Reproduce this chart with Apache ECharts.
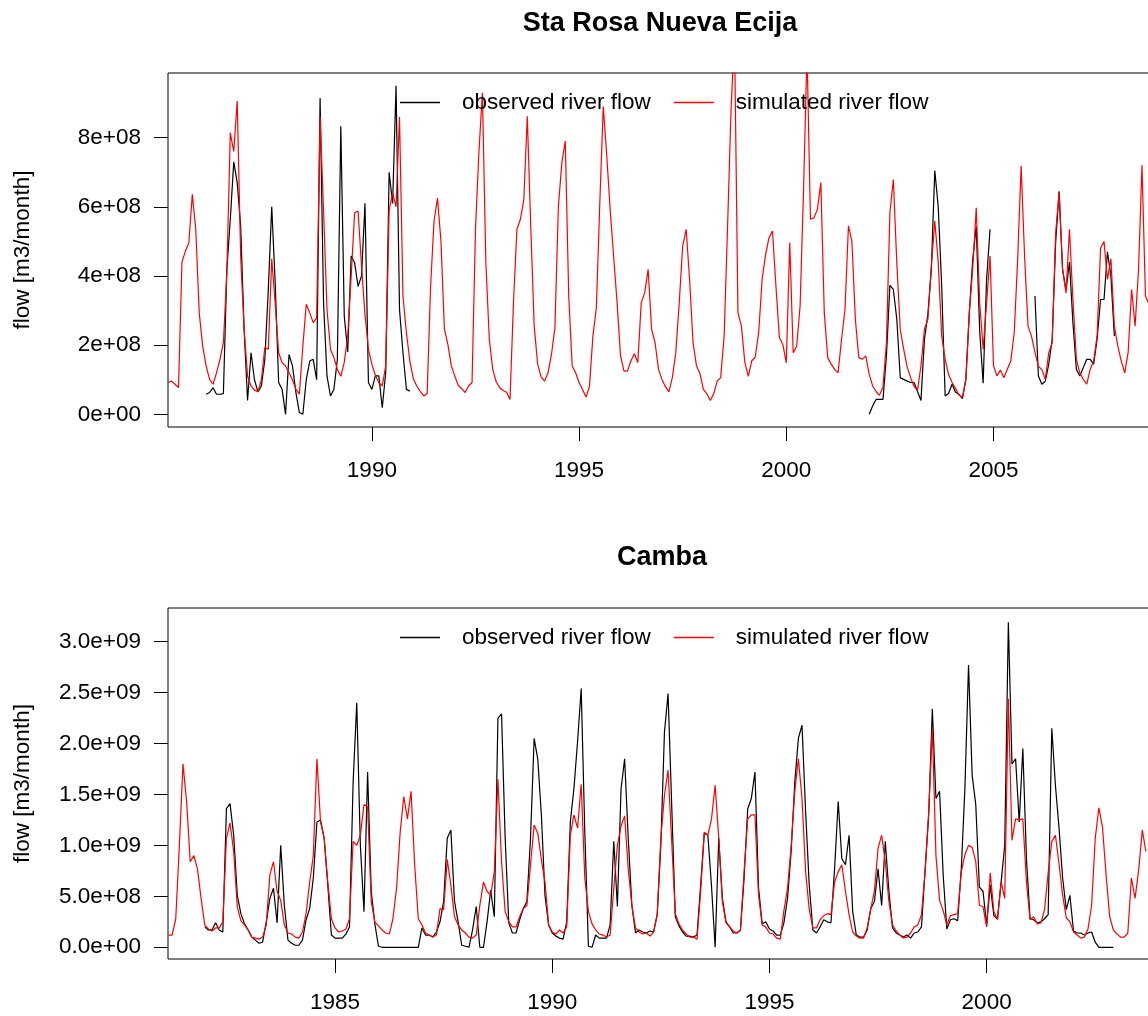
<!DOCTYPE html>
<html>
<head>
<meta charset="utf-8">
<script src="https://cdn.jsdelivr.net/npm/echarts@6/dist/echarts.min.js"></script>
<style>
html,body{margin:0;padding:0;overflow:hidden;background:#ffffff;}
#chart{width:1170px;height:1016px;}
</style>
</head>
<body>
<div id="chart"></div>
<script>
// ---------------- DATA ----------------
// Panel titles and legend labels
const panelTitles = ['Sta Rosa Nueva Ecija', 'Camba'];
const seriesNames = ['observed river flow', 'simulated river flow'];
const yAxisTitle = 'flow [m3/month]';

// Tick labels
const topYearTicks = [1990, 1995, 2000, 2005];
const bottomYearTicks = [1985, 1990, 1995, 2000];
const topFlowTicks = [0, 2e8, 4e8, 6e8, 8e8];
const bottomFlowTicks = [0, 5e8, 1e9, 1.5e9, 2e9, 2.5e9, 3e9];

// Sta Rosa Nueva Ecija – monthly flow, units of 1e8 m3/month
const topUnit = 1e8;
const topSimulatedStart = [1985, 2];   // [year, month]
const topSimulated = [
  0.92,0.96,0.87,0.77,4.4,4.72,4.96,6.36,5.35,2.94,1.97,1.4,
  1.01,0.87,1.2,1.59,2.07,4.1,8.14,7.6,9.06,4.58,2.46,1.1,
  0.82,0.7,0.65,1.0,1.93,1.88,4.5,3.2,1.78,1.49,1.4,1.2,
  1.0,0.72,0.58,1.97,3.18,2.94,2.65,2.79,8.62,5.9,3.03,1.88,
  1.64,1.3,1.1,1.5,2.26,4.0,5.83,5.88,4.29,2.89,1.88,1.45,
  1.13,0.92,0.82,1.4,5.9,6.4,6.0,8.6,3.42,2.36,1.54,1.03,
  0.82,0.66,0.53,0.6,3.71,5.59,6.25,5.0,2.46,2.02,1.4,1.11,
  0.84,0.74,0.63,0.82,0.92,5.35,7.6,9.3,4.38,2.17,1.3,0.94,
  0.77,0.69,0.64,0.43,3.23,5.35,5.64,6.21,8.62,5.44,2.55,1.45,
  1.08,0.96,1.2,1.73,2.5,6.0,7.27,7.9,3.42,1.4,1.2,0.92,
  0.72,0.5,0.8,2.26,3.08,6.12,8.9,7.5,5.92,4.58,3.23,1.69,
  1.25,1.25,1.54,1.75,1.5,3.23,3.52,4.19,2.46,2.07,1.3,1.01,
  0.8,0.65,1.06,1.78,3.23,4.87,5.35,3.9,2.07,1.4,1.18,0.72,
  0.6,0.4,0.6,0.96,1.06,2.26,5.44,8.8,11.0,2.94,2.55,1.5,
  1.1,1.55,1.65,2.36,3.9,4.62,5.11,5.3,3.71,2.22,2.02,1.49,
  4.96,1.78,1.97,3.13,6.5,10.5,5.64,5.68,5.92,6.7,2.94,1.64,
  1.45,1.3,1.2,2.17,3.03,5.45,5.0,2.75,1.64,1.59,1.69,1.16,
  0.82,0.66,0.55,0.8,2.07,5.83,6.79,4.38,2.46,1.88,1.37,1.06,
  0.8,0.7,1.4,2.46,2.75,4.29,5.59,4.4,2.26,1.59,1.15,0.92,
  0.75,0.56,0.49,1.01,2.94,4.24,5.97,3.23,1.88,3.23,4.58,1.4,
  1.11,1.28,1.06,1.3,1.54,2.36,4.48,7.18,4.58,2.55,2.26,1.8,
  1.38,1.3,1.01,1.78,2.07,5.25,6.41,4.19,3.5,5.35,3.32,1.59,
  1.2,1.01,0.87,1.3,1.54,2.26,4.8,5.0,3.9,4.5,2.55,1.97,
  1.54,1.2,1.8,3.61,2.55,4.19,7.2,3.42,3.2
];
const topObserved1Start = [1986, 1];
const topObserved1 = [
  0.58,0.63,0.77,0.58,0.58,0.6,4.19,5.64,7.3,6.7,5.44,2.46,
  0.4,1.78,1.0,0.65,0.82,1.59,3.6,6.0,3.8,0.92,0.72,0.0,
  1.73,1.4,0.63,0.05,0.0,1.0,1.54,1.59,1.0,9.15,3.23,1.11,
  0.53,0.72,1.59,8.33,2.84,1.8,4.58,4.38,3.7,4.0,6.1,0.92,
  0.72,1.11,1.11,0.19,1.2,7.0,6.1,9.5,3.03,1.78,0.72,0.67
];
const topObserved2Start = [2002, 1];
const topObserved2 = [
  0.0,0.24,0.43,0.43,0.43,1.69,3.73,3.61,2.75,1.06,1.01,0.96,
  0.92,0.92,0.66,0.4,2.17,2.89,4.19,7.05,6.0,3.71,0.53,0.6,
  0.87,0.64,0.58,0.45,1.01,2.94,4.5,5.44,2.4,0.9,3.9,5.35
];
const topObserved3Start = [2006, 1];
const topObserved3 = [
  3.42,1.11,0.87,0.96,1.45,2.17,4.98,6.45,4.19,3.6,4.4,2.65,
  1.3,1.11,1.35,1.59,1.59,1.45,2.17,3.32,3.32,4.7,4.0,2.26
];

// Camba – monthly flow, units of 1e9 m3/month
const bottomUnit = 1e9;
const bottomSimulatedStart = [1981, 3];
const bottomSimulated = [
  0.12,0.12,0.28,1.0,1.8,1.43,0.84,0.9,0.77,0.48,0.22,0.18,
  0.16,0.19,0.19,0.25,1.07,1.22,0.94,0.4,0.26,0.22,0.17,0.1,
  0.09,0.08,0.1,0.22,0.71,0.84,0.55,0.46,0.22,0.14,0.13,0.1,
  0.09,0.15,0.33,0.64,0.9,1.85,1.23,1.07,0.64,0.28,0.19,0.15,
  0.16,0.18,0.28,1.04,1.0,1.1,1.4,1.38,0.45,0.25,0.21,0.17,
  0.14,0.13,0.28,0.58,1.13,1.48,1.26,1.53,0.81,0.28,0.22,0.14,
  0.12,0.1,0.12,0.38,0.37,0.86,0.61,0.3,0.22,0.17,0.14,0.1,
  0.09,0.12,0.41,0.64,0.55,0.51,0.74,1.65,0.84,0.35,0.25,0.2,
  0.2,0.3,0.38,0.41,0.81,1.2,1.12,0.86,0.64,0.22,0.15,0.13,
  0.17,0.14,0.2,1.1,1.3,1.17,1.6,0.68,0.35,0.23,0.17,0.13,
  0.12,0.1,0.12,0.58,1.0,1.19,1.29,0.77,0.41,0.19,0.15,0.13,
  0.14,0.11,0.15,0.32,1.07,1.49,1.74,1.04,0.33,0.23,0.17,0.13,
  0.1,0.1,0.08,0.55,1.13,1.1,1.26,1.59,1.07,0.45,0.24,0.2,
  0.16,0.14,0.17,0.74,1.26,1.3,1.3,0.51,0.22,0.2,0.14,0.13,
  0.09,0.08,0.36,0.58,0.99,1.53,1.85,1.46,0.74,0.37,0.19,0.19,
  0.27,0.31,0.33,0.32,0.64,0.74,0.81,0.55,0.32,0.15,0.11,0.09,
  0.09,0.19,0.38,0.55,0.97,1.1,0.84,0.45,0.22,0.16,0.12,0.09,
  0.1,0.14,0.2,0.22,0.32,0.74,1.33,2.15,0.9,0.46,0.36,0.22,
  0.31,0.32,0.33,0.74,0.91,1.0,0.98,0.84,0.41,0.4,0.2,0.73,
  0.35,0.27,0.64,0.48,2.44,1.05,1.26,1.25,1.26,0.64,0.27,0.3,
  0.23,0.24,0.37,0.73,1.04,1.1,0.82,0.51,0.29,0.25,0.15,0.12,
  0.09,0.1,0.18,0.41,1.07,1.37,1.18,0.71,0.3,0.17,0.13,0.1,
  0.1,0.14,0.68,0.48,0.76,1.15,0.94
];
const bottomObservedStart = [1982, 1];
const bottomObserved = [
  0.2,0.17,
  0.17,0.24,0.17,0.15,1.36,1.41,1.1,0.51,0.33,0.23,0.17,0.1,
  0.07,0.04,0.05,0.25,0.48,0.58,0.24,1.0,0.41,0.07,0.04,0.02,
  0.02,0.07,0.27,0.38,0.68,1.23,1.25,1.07,0.61,0.12,0.09,0.09,
  0.09,0.13,0.2,1.62,2.4,1.0,0.35,1.72,0.55,0.23,0.01,0,
  0,0,0,0,0,0,0,0,0,0,0.19,0.12,
  0.12,0.1,0.15,0.25,0.45,1.07,1.15,0.45,0.25,0.02,0.01,0,
  0.17,0.4,0,0,0.25,0.56,0.3,2.25,2.29,1.07,0.24,0.14,
  0.14,0.27,0.38,0.45,1.07,2.05,1.85,1.3,0.51,0.22,0.14,0.11,
  0.09,0.08,0.25,1.23,1.56,2.02,2.54,1.13,0.01,0,0.12,0.09,
  0.09,0.09,0.22,1.04,0.4,1.55,1.85,1.07,0.41,0.14,0.17,0.15,
  0.14,0.16,0.15,0.32,1.0,2.11,2.49,1.4,0.3,0.21,0.15,0.11,
  0.11,0.1,0.12,0.61,1.12,1.1,0.6,0,1.07,0.48,0.25,0.2,
  0.14,0.14,0.17,0.68,1.36,1.46,1.72,0.58,0.23,0.25,0.18,0.16,
  0.12,0.12,0.24,0.48,0.94,1.62,2.05,2.18,1.33,0.61,0.17,0.14,
  0.2,0.27,0.25,0.24,0.77,1.43,0.87,0.81,1.1,0.35,0.12,0.1,
  0.1,0.17,0.38,0.45,0.77,0.41,1.04,0.55,0.19,0.14,0.12,0.1,
  0.12,0.09,0.14,0.15,0.2,0.76,1.3,2.34,1.46,1.53,0.71,0.18,
  0.27,0.28,0.26,0.77,1.56,2.77,1.69,1.4,0.59,0.55,0.22,0.61,
  0.31,0.28,0.64,1.0,3.19,1.8,1.85,1.23,1.95,0.87,0.28,0.27,
  0.24,0.25,0.28,0.32,2.15,1.59,1.17,0.68,0.37,0.51,0.16,0.14,
  0.14,0.12,0.14,0.15,0.05,0,0,0,0,0
];

// ---------------- BUILD ----------------
function toPairs(start, values, unit) {
  const out = [];
  for (let i = 0; i < values.length; i++) {
    const t = start[0] + (start[1] - 1 + i) / 12;
    out.push([t, values[i] == null ? '-' : values[i] * unit]);
  }
  return out;
}
function sci(v, digits) {
  if (v === 0) return (0).toFixed(digits) + 'e+00';
  const e = Math.floor(Math.log10(Math.abs(v)) + 1e-9);
  const m = v / Math.pow(10, e);
  return m.toFixed(digits) + 'e+' + String(e).padStart(2, '0');
}

const FONT = '"Liberation Sans", Arial, Helvetica, sans-serif';
const BASE = 22.5;
const BLACK = '#000000';
const RED = '#ff0000';

function xAxisCfg(gridIndex, min, max, ticks) {
  return {
    type: 'value', gridIndex: gridIndex, min: min, max: max, position: 'bottom',
    axisLine: { show: false, onZero: false },
    splitLine: { show: false },
    axisTick: { show: true, inside: false, length: 14, customValues: ticks,
                lineStyle: { color: BLACK, width: 1 } },
    axisLabel: { show: true, customValues: ticks, margin: 32, color: BLACK,
                 fontSize: BASE, fontFamily: FONT,
                 formatter: function (v) { return String(Math.round(v)); } }
  };
}
function yAxisCfg(gridIndex, min, max, ticks, digits) {
  return {
    type: 'value', gridIndex: gridIndex, min: min, max: max, position: 'left',
    axisLine: { show: false, onZero: false },
    splitLine: { show: false },
    axisTick: { show: true, inside: false, length: 14, customValues: ticks,
                lineStyle: { color: BLACK, width: 1 } },
    axisLabel: { show: true, customValues: ticks, margin: 27, color: BLACK,
                 fontSize: BASE, fontFamily: FONT,
                 formatter: function (v) { return sci(v, digits); } },
    name: yAxisTitle, nameLocation: 'middle', nameRotate: 90, nameGap: 134,
    nameTextStyle: { color: BLACK, fontSize: BASE, fontFamily: FONT }
  };
}
function lineSeries(name, color, xi, data) {
  return {
    name: name, type: 'line', xAxisIndex: xi, yAxisIndex: xi,
    data: data, showSymbol: false, symbol: 'none', connectNulls: false,
    clip: true, color: color,
    lineStyle: { color: color, width: 1.2 },
    emphasis: { disabled: true }, silent: true
  };
}
function legendCfg(top) {
  return {
    left: 400, top: top, orient: 'horizontal', padding: 0,
    icon: 'rect', itemWidth: 40, itemHeight: 1.5, itemGap: 23,
    selectedMode: false, data: seriesNames,
    textStyle: { color: BLACK, fontSize: BASE, fontFamily: FONT, padding: [0, 0, 0, 17] }
  };
}

const option = {
  animation: false,
  backgroundColor: '#ffffff',
  title: [
    { text: panelTitles[0], left: 660, top: 10, textAlign: 'center', padding: 0,
      textStyle: { fontSize: 27, fontWeight: 'bold', color: BLACK, fontFamily: FONT } },
    { text: panelTitles[1], left: 662, top: 544, textAlign: 'center', padding: 0,
      textStyle: { fontSize: 27, fontWeight: 'bold', color: BLACK, fontFamily: FONT } }
  ],
  legend: [legendCfg(91), legendCfg(626)],
  grid: [
    { left: 168, top: 73, width: 992, height: 354, show: true, borderColor: BLACK, borderWidth: 1,
      backgroundColor: 'transparent', containLabel: false },
    { left: 168, top: 608, width: 992, height: 351, show: true, borderColor: BLACK, borderWidth: 1,
      backgroundColor: 'transparent', containLabel: false }
  ],
  xAxis: [
    xAxisCfg(0, 1985.08, 2009.018, topYearTicks),
    xAxisCfg(1, 1981.155, 2003.991, bottomYearTicks)
  ],
  yAxis: [
    yAxisCfg(0, -0.367e8, 9.87e8, topFlowTicks, 0),
    yAxisCfg(1, -0.115e9, 3.33e9, bottomFlowTicks, 1)
  ],
  series: [
    lineSeries(seriesNames[0], BLACK, 0, toPairs(topObserved1Start, topObserved1, topUnit)),
    lineSeries(seriesNames[0], BLACK, 0, toPairs(topObserved2Start, topObserved2, topUnit)),
    lineSeries(seriesNames[0], BLACK, 0, toPairs(topObserved3Start, topObserved3, topUnit)),
    lineSeries(seriesNames[1], RED, 0, toPairs(topSimulatedStart, topSimulated, topUnit)),
    lineSeries(seriesNames[0], BLACK, 1, toPairs(bottomObservedStart, bottomObserved, bottomUnit)),
    lineSeries(seriesNames[1], RED, 1, toPairs(bottomSimulatedStart, bottomSimulated, bottomUnit))
  ]
};

const chart = echarts.init(document.getElementById('chart'), null, { renderer: 'canvas' });
chart.setOption(option);
</script>
</body>
</html>
